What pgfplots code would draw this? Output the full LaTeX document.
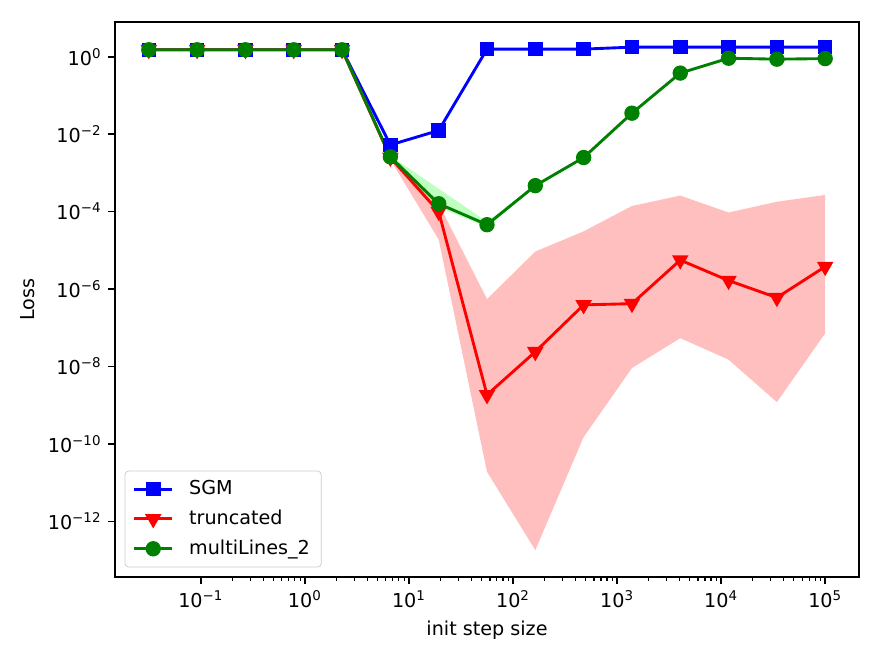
\documentclass[border=0pt]{standalone}
\usepackage{fontspec}
\setmainfont{DejaVu Sans}
\usepackage{pgfplots}
\pgfplotsset{compat=1.18}
\usepgfplotslibrary{fillbetween}

\definecolor{mplgreen}{RGB}{0,128,0}

\begin{document}
\begin{tikzpicture}
\begin{loglogaxis}[
  scale only axis,
  width=388.2pt, height=289.6pt,
  xmin=0.01496, xmax=211349,
  ymin=3.63e-14, ymax=7.94,
  axis line style={line width=0.8pt},
  tick align=outside,
  xtick pos=bottom, ytick pos=left,
  major tick length=3.5pt, minor tick length=2pt,
  every tick/.style={black, line width=0.8pt},
  every minor tick/.style={black, line width=0.6pt},
  xtick={0.1,1,10,100,1000,10000,100000},
  xticklabels={10\textsuperscript{−1},10\textsuperscript{0},10\textsuperscript{1},10\textsuperscript{2},10\textsuperscript{3},10\textsuperscript{4},10\textsuperscript{5}},
  ytick={1e-12,1e-10,1e-8,1e-6,1e-4,1e-2,1},
  yticklabels={10\textsuperscript{−12},10\textsuperscript{−10},10\textsuperscript{−8},10\textsuperscript{−6},10\textsuperscript{−4},10\textsuperscript{−2},10\textsuperscript{0}},
  yminorticks=false,
  tick label style={font=\fontsize{10}{12}\selectfont},
  label style={font=\fontsize{10}{12}\selectfont},
  xlabel={init step size},
  ylabel={Loss},
  legend cell align=left,
  legend style={at={(0,0)}, anchor=south west, xshift=5pt, yshift=5pt,
    draw=black!20, rounded corners=2pt, fill=white, fill opacity=0.8, text opacity=1,
    font=\fontsize{10}{12}\selectfont, row sep=2.5pt, inner xsep=4pt, inner ysep=3pt,
    /tikz/every odd column/.append style={column sep=6pt}},
  legend image code/.code={\draw[fill opacity=1, draw opacity=1, mark repeat=2, mark phase=2]
    plot coordinates {(0pt,0pt) (10pt,0pt) (20pt,0pt)};},
]

% ---- SGM ----
\addplot[blue, line width=1.5pt, mark=square*, mark size=3.3pt,
  mark options={solid, line width=1pt, draw=blue, fill=blue}]
  coordinates {
  (0.031623,1.52) (0.092086,1.52) (0.26827,1.52) (0.78134,1.52) (2.2758,1.52)
  (6.6282,5.3e-3) (19.307,1.25e-2) (56.234,1.58) (163.79,1.58) (477.05,1.58)
  (1389.5,1.78) (4047.1,1.78) (11788,1.78) (34333,1.78) (100000,1.78)};
\addlegendentry{SGM}

% ---- truncated: spread band, then mean ----
\addplot[name path=tu, draw=none, forget plot] coordinates {
  (0.031623,1.55) (0.092086,1.55) (0.26827,1.55) (0.78134,1.55) (2.2758,1.55)
  (6.6282,2.7e-3) (19.307,1.6e-4) (56.234,5.5e-7) (163.79,9.3e-6) (477.05,3.1e-5)
  (1389.5,1.4e-4) (4047.1,2.6e-4) (11788,9.5e-5) (34333,1.8e-4) (100000,2.7e-4)};
\addplot[name path=tl, draw=none, forget plot] coordinates {
  (0.031623,1.49) (0.092086,1.49) (0.26827,1.49) (0.78134,1.49) (2.2758,1.49)
  (6.6282,2.2e-3) (19.307,1.9e-5) (56.234,1.9e-11) (163.79,1.8e-13) (477.05,1.5e-10)
  (1389.5,9.1e-9) (4047.1,5.4e-8) (11788,1.5e-8) (34333,1.2e-9) (100000,7.2e-8)};
\addplot[red, fill opacity=0.25, draw=none, forget plot] fill between[of=tu and tl];

\addplot[red, line width=1.5pt, mark=triangle*, mark size=4pt,
  mark options={solid, rotate=180, line width=1pt, draw=red, fill=red}]
  coordinates {
  (0.031623,1.52) (0.092086,1.52) (0.26827,1.52) (0.78134,1.52) (2.2758,1.52)
  (6.6282,2.5e-3) (19.307,1.0e-4) (56.234,1.85e-9) (163.79,2.4e-8) (477.05,3.9e-7)
  (1389.5,4.2e-7) (4047.1,5.6e-6) (11788,1.66e-6) (34333,6.0e-7) (100000,3.8e-6)};
\addlegendentry{truncated}

% ---- multiLines_2: spread band, then mean ----
\addplot[name path=gu, draw=none, forget plot] coordinates {
  (0.031623,1.55) (0.092086,1.55) (0.26827,1.55) (0.78134,1.55) (2.2758,1.55)
  (6.6282,2.8e-3) (19.307,3.9e-4) (56.234,5.5e-5) (163.79,5.0e-4) (477.05,2.6e-3)
  (1389.5,3.6e-2) (4047.1,0.39) (11788,0.94) (34333,0.89) (100000,0.92)};
\addplot[name path=gl, draw=none, forget plot] coordinates {
  (0.031623,1.49) (0.092086,1.49) (0.26827,1.49) (0.78134,1.49) (2.2758,1.49)
  (6.6282,2.4e-3) (19.307,1.3e-4) (56.234,4.0e-5) (163.79,4.4e-4) (477.05,2.4e-3)
  (1389.5,3.4e-2) (4047.1,0.37) (11788,0.90) (34333,0.85) (100000,0.88)};
\addplot[green, fill opacity=0.25, draw=none, forget plot] fill between[of=gu and gl];

\addplot[mplgreen, line width=1.5pt, mark=*, mark size=3.5pt,
  mark options={solid, line width=1pt, draw=mplgreen, fill=mplgreen}]
  coordinates {
  (0.031623,1.52) (0.092086,1.52) (0.26827,1.52) (0.78134,1.52) (2.2758,1.52)
  (6.6282,2.6e-3) (19.307,1.6e-4) (56.234,4.6e-5) (163.79,4.7e-4) (477.05,2.5e-3)
  (1389.5,3.5e-2) (4047.1,0.38) (11788,0.92) (34333,0.87) (100000,0.90)};
\addlegendentry{multiLines\_2}

\end{loglogaxis}
\pgfresetboundingbox
\path[use as bounding box]
  ([xshift=-60.0pt,yshift=-42.26pt]current axis.south west)
  rectangle ([xshift=12.52pt,yshift=11.48pt]current axis.north east);
\end{tikzpicture}
\end{document}
